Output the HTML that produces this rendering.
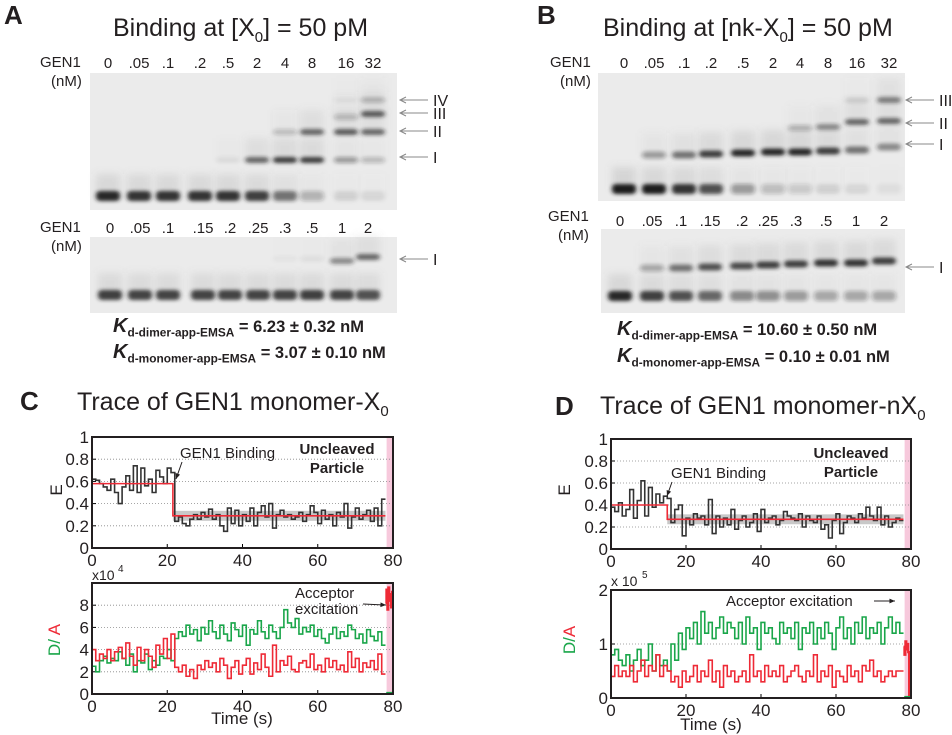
<!DOCTYPE html>
<html><head><meta charset="utf-8">
<style>
body{margin:0;width:952px;height:735px;background:#fff;overflow:hidden;position:relative;font-family:"Liberation Sans",Arial,sans-serif;color:#231f20}
.t{position:absolute;white-space:nowrap;line-height:1}
.pl{font-weight:bold;font-size:26px}
.ti{font-size:25px}
.lb{font-size:15px}
.kd{font-size:16.5px;font-weight:bold}
.kd i{font-size:20px}
.kd sub{font-size:72%}
sub{font-size:60%}
svg{position:absolute;left:0;top:0}
</style></head><body>
<svg id="s" width="952" height="735">
<defs>
<filter id="bl" x="-50%" y="-100%" width="200%" height="300%"><feGaussianBlur stdDeviation="2.2 1.8"/></filter>
<filter id="bl2" x="-50%" y="-100%" width="200%" height="300%"><feGaussianBlur stdDeviation="4"/></filter>
</defs>
</svg>

<div class="t pl" style="left:4px;top:2px">A</div>
<div class="t ti" style="left:113px;top:16px">Binding at [X<sub>0</sub>] = 50 pM</div>
<div class="t lb" style="left:40px;top:55px">GEN1</div>
<div class="t lb" style="left:51px;top:74px">(nM)</div>
<div class="t lb" style="left:40px;top:220px">GEN1</div>
<div class="t lb" style="left:51px;top:239px">(nM)</div>
<div class="t kd" style="left:113px;top:316px"><i>K</i><sub>d-dimer-app-EMSA</sub> = 6.23 ± 0.32 nM</div>
<div class="t kd" style="left:113px;top:342px"><i>K</i><sub>d-monomer-app-EMSA</sub> = 3.07 ± 0.10 nM</div>

<div class="t pl" style="left:537px;top:2px">B</div>
<div class="t ti" style="left:603px;top:16px">Binding at [nk-X<sub>0</sub>] = 50 pM</div>
<div class="t lb" style="left:550px;top:55px">GEN1</div>
<div class="t lb" style="left:560px;top:74px">(nM)</div>
<div class="t lb" style="left:548px;top:209px">GEN1</div>
<div class="t lb" style="left:558px;top:228px">(nM)</div>
<div class="t kd" style="left:617px;top:319px"><i>K</i><sub>d-dimer-app-EMSA</sub> = 10.60 ± 0.50 nM</div>
<div class="t kd" style="left:617px;top:346px"><i>K</i><sub>d-monomer-app-EMSA</sub> = 0.10 ± 0.01 nM</div>

<div class="t pl" style="left:20px;top:388px">C</div>
<div class="t ti" style="left:77px;top:390px">Trace of GEN1 monomer-X<sub>0</sub></div>
<div class="t pl" style="left:555px;top:393px">D</div>
<div class="t ti" style="left:600px;top:394px">Trace of GEN1 monomer-nX<sub>0</sub></div>

<script>
// ---------- Gel data ----------
const gelALanesTop=["0",".05",".1",".2",".5","2","4","8","16","32"];
const gelAFreeTop=[0.9,0.85,0.85,0.85,0.85,0.8,0.55,0.25,0.1,0.08];
const gelABandI=[0,0,0,0,0.06,0.6,0.8,0.8,0.35,0.22];
const gelABandII=[0,0,0,0,0,0,0.2,0.6,0.65,0.6];
const gelABandIII=[0,0,0,0,0,0,0,0,0.2,0.65];
const gelABandIV=[0,0,0,0,0,0,0,0,0.05,0.25];
const gelALanesBot=["0",".05",".1",".15",".2",".25",".3",".5","1","2"];
const gelAFreeBot=[0.8,0.78,0.78,0.78,0.78,0.78,0.78,0.8,0.78,0.72];
const gelABotI=[0,0,0,0,0,0,0.03,0.05,0.45,0.6];
const gelBLanesTop=["0",".05",".1",".2",".5","2","4","8","16","32"];
const gelBFreeTop=[1,0.95,0.85,0.7,0.35,0.2,0.15,0.1,0.08,0.05];
const gelBBandI=[0,0.35,0.55,0.8,0.9,0.9,0.9,0.8,0.55,0.45];
const gelBBandII=[0,0,0,0,0,0,0.25,0.45,0.6,0.6];
const gelBBandIII=[0,0,0,0,0,0,0,0,0.1,0.5];
const gelBLanesBot=["0",".05",".1",".15",".2",".25",".3",".5","1","2"];
const gelBFreeBot=[0.9,0.8,0.7,0.6,0.45,0.4,0.35,0.3,0.3,0.3];
const gelBBotI=[0,0.3,0.55,0.7,0.75,0.8,0.8,0.85,0.85,0.8];

// ---------- Trace data (t = 0..77 s, 1 s bins) ----------
const cE=[0.62,0.61,0.58,0.55,0.52,0.62,0.50,0.40,0.55,0.65,0.52,0.74,0.50,0.72,0.56,0.62,0.50,0.70,0.64,0.58,0.72,0.68,0.24,0.28,0.22,0.20,0.26,0.30,0.26,0.32,0.28,0.35,0.26,0.30,0.20,0.15,0.36,0.22,0.34,0.20,0.30,0.24,0.36,0.20,0.32,0.38,0.28,0.40,0.18,0.30,0.34,0.28,0.30,0.26,0.28,0.32,0.24,0.30,0.38,0.32,0.22,0.34,0.26,0.30,0.20,0.32,0.28,0.40,0.18,0.28,0.36,0.26,0.30,0.34,0.24,0.36,0.20,0.44];
const cFitTimes=[0,21.5,78];
const cFitLevels=[0.58,0.29];
const cDonor=[2.5,2.0,3.0,3.4,2.8,3.2,3.0,3.8,3.2,2.6,3.6,2.0,3.0,2.8,3.6,2.2,3.0,2.6,3.4,3.2,4.0,3.0,5.0,5.6,5.2,6.2,5.4,5.8,4.8,6.0,5.4,6.6,5.6,5.0,6.2,5.4,4.8,6.4,5.8,5.2,6.2,4.4,5.8,5.4,6.6,5.6,5.0,6.2,5.6,5.0,6.0,7.6,6.4,6.0,6.8,5.4,6.0,5.6,6.2,5.2,5.8,5.0,4.6,5.4,6.0,5.0,5.6,5.2,6.2,5.8,5.0,5.4,4.6,5.8,5.2,4.8,5.6,4.4];
const cAcceptor=[4.0,3.0,3.6,3.2,4.0,3.0,3.8,4.2,3.2,4.6,3.4,2.6,4.2,3.0,4.0,3.4,2.4,4.4,3.6,5.0,3.2,5.4,2.4,2.0,2.6,1.6,2.2,1.4,2.6,2.2,3.0,2.4,2.8,2.0,3.2,2.6,1.4,2.4,3.0,1.8,2.6,3.2,1.8,2.8,2.2,3.6,2.4,1.6,4.4,2.0,3.0,2.6,3.4,2.2,2.0,2.8,3.0,2.4,3.6,2.2,2.6,2.0,3.2,2.4,3.0,2.2,2.6,2.0,3.8,2.4,3.2,2.0,2.8,2.4,3.0,2.2,3.6,1.8];
const cAccExc=[8.2,9.4,7.6,9.6,8.4,9.0,7.8,9.2];
const dE=[0.38,0.34,0.42,0.30,0.36,0.54,0.28,0.44,0.62,0.30,0.56,0.38,0.50,0.42,0.48,0.46,0.24,0.36,0.40,0.12,0.28,0.22,0.32,0.28,0.30,0.22,0.45,0.14,0.30,0.20,0.28,0.22,0.36,0.18,0.26,0.30,0.20,0.24,0.32,0.16,0.36,0.24,0.28,0.30,0.22,0.26,0.34,0.30,0.28,0.26,0.32,0.20,0.30,0.26,0.24,0.30,0.18,0.22,0.10,0.26,0.32,0.14,0.24,0.30,0.28,0.24,0.32,0.28,0.38,0.30,0.26,0.38,0.22,0.30,0.20,0.24,0.28,0.26];
const dFitTimes=[0,15,78];
const dFitLevels=[0.40,0.27];
const dDonor=[0.8,0.9,0.7,0.6,0.8,0.5,0.7,0.9,0.6,0.7,1.0,0.5,0.8,0.6,0.7,0.5,1.0,0.7,1.2,0.9,1.3,1.1,1.4,1.0,1.6,1.2,1.4,1.1,1.3,1.5,1.2,1.4,1.3,1.1,1.4,1.0,1.5,1.2,1.3,0.9,1.4,1.2,1.3,1.1,1.0,1.4,1.2,1.3,1.1,1.4,0.9,1.3,1.2,1.4,1.0,1.3,1.1,1.4,1.2,0.9,1.3,1.5,1.1,1.3,1.0,1.4,1.2,1.5,1.1,1.3,1.2,1.4,1.0,1.3,1.5,1.2,1.4,1.2];
const dAcceptor=[0.4,0.6,0.4,0.5,0.4,0.6,0.3,0.5,0.7,0.4,0.6,0.5,0.8,0.4,0.6,0.5,0.3,0.4,0.2,0.5,0.3,0.4,0.6,0.3,0.5,0.4,0.7,0.3,0.5,0.2,0.6,0.4,0.5,0.3,0.4,0.5,0.3,0.8,0.4,0.5,0.3,0.6,0.4,0.5,0.4,0.6,0.3,0.4,0.5,0.6,0.4,0.3,0.5,0.4,0.8,0.3,0.5,0.4,0.6,0.2,0.5,0.4,0.3,0.6,0.4,0.5,0.3,0.6,0.5,0.7,0.4,0.5,0.3,0.4,0.5,0.4,0.5,0.5];
const dAccExc=[0.95,0.8,1.05,0.9,1.0,0.85,0.05,0.05];
const xTicks=[0,20,40,60,80];

const S=document.getElementById('s');
const NS='http://www.w3.org/2000/svg';
function mk(tag,a,p){const e=document.createElementNS(NS,tag);for(const k in a)e.setAttribute(k,a[k]);(p||S).appendChild(e);return e;}
function txt(x,y,s,size,anchor,p,fill,weight){const e=mk('text',{x:x,y:y,'font-size':size,'text-anchor':anchor||'middle',fill:fill||'#231f20','font-family':'Liberation Sans, Arial, sans-serif','font-weight':weight||'normal'},p);e.textContent=s;return e;}

// ---------- Gels ----------
function gel(name,x0,y0,x1,y1,lanesX,labels,labelY,bands,arrows){
  const g=mk('g',{});
  
  
  const bg=mk('rect',{x:x0,y:y0,width:x1-x0,height:y1-y0,fill:'#ebebeb'},g);
  
  
  labels.forEach((l,i)=>{
    const t=txt(lanesX[i],labelY,l,15,'middle',g);
    
    
  });
  bands.forEach(b=>{
    b.vals.forEach((v,i)=>{
      if(v<=0)return;
      const yy=b.y+(b.dy?b.dy[i]:0);
      const sm=mk('rect',{x:lanesX[i]-12,y:yy-22,width:24,height:22,fill:'#777','fill-opacity':v*0.18,filter:'url(#bl2)'},g);
      
      
      const e=mk('rect',{x:lanesX[i]-12,y:yy-b.h/2,width:24,height:b.h,rx:4,fill:'#1e1e1e','fill-opacity':Math.min(1,v*1.05),filter:'url(#bl)'},g);
      
      
    });
  });
  arrows.forEach(a=>{
    const l=mk('line',{x1:a.x,y1:a.y,x2:a.x+28,y2:a.y,stroke:'#888','stroke-width':1},g);
    
    
    const h=mk('path',{d:`M${a.x+6},${a.y-3}L${a.x},${a.y}L${a.x+6},${a.y+3}`,fill:'none',stroke:'#888','stroke-width':1},g);
    
    
    const t=txt(a.x+33,a.y+6,a.l,16,'start',g);
    
    
  });
}
const LA=[108,139,168,200,228,257,285,312,346,373];
gel('gel-a-top',90,73,397,210,LA,gelALanesTop,68,[
 {y:196,h:10,vals:gelAFreeTop},{y:160,h:6,vals:gelABandI},{y:132,h:6,vals:gelABandII},
 {y:114,h:6,vals:gelABandIII,dy:[0,0,0,0,0,0,0,0,3,0]},{y:100,h:5,vals:gelABandIV}],
 [{x:400,y:100,l:'IV'},{x:400,y:113,l:'III'},{x:400,y:131,l:'II'},{x:400,y:157,l:'I'}]);
const LA2=[110,140,168,203,230,258,285,312,342,368];
gel('gel-a-bottom',90,237,397,313,LA2,gelALanesBot,233,[
 {y:295,h:10,vals:gelAFreeBot},{y:259,h:6,vals:gelABotI,dy:[0,0,0,0,0,0,0,0,2,-2]}],
 [{x:400,y:259,l:'I'}]);
const LB=[624,654,684,711,743,773,800,828,857,889];
gel('gel-b-top',598,73,905,201,LB,gelBLanesTop,68,[
 {y:189,h:10,vals:gelBFreeTop},{y:154,h:7,vals:gelBBandI,dy:[0,1,1,0,-1,-2,-2,-3,-4,-7]},
 {y:125,h:6,vals:gelBBandII,dy:[0,0,0,0,0,0,3,2,-3,-4]},{y:100,h:6,vals:gelBBandIII}],
 [{x:906,y:100,l:'III'},{x:906,y:123,l:'II'},{x:906,y:144,l:'I'}]);
const LB2=[620,652,681,710,742,768,796,826,856,884];
gel('gel-b-bottom',601,229,905,313,LB2,gelBLanesBot,226,[
 {y:296,h:10,vals:gelBFreeBot},{y:266,h:7,vals:gelBBotI,dy:[0,2,2,1,0,-1,-2,-3,-3,-5]}],
 [{x:906,y:267,l:'I'}]);

// ---------- Trace plots ----------
function stairs(vals,sx,sy,t0){let d='';vals.forEach((v,i)=>{const x0=sx(t0+i),x1=sx(t0+i+1),y=sy(v);d+=(i?'L':'M')+x0+','+y+'L'+x1+','+y;});return d;}
function plot(name,X0,Y0,W,H,yMax,yTicks,yTickLabels){
  const g=mk('g',{});
  
  
  const sx=t=>X0+t/80*W, sy=v=>Y0+H-v/yMax*H;
  const pink=mk('rect',{x:sx(78.3),y:Y0,width:sx(80)-sx(78.3),height:H,fill:'#f7c9dc'},g);
  
  
  yTicks.forEach((v,i)=>{
    if(v>0&&v<yMax){const l=mk('line',{x1:X0,x2:X0+W,y1:sy(v),y2:sy(v),stroke:'#888','stroke-dasharray':'1,2','stroke-width':0.8},g);
    
    }
    const tk=mk('line',{x1:X0,x2:X0+4,y1:sy(v),y2:sy(v),stroke:'#000'},g);
    
    
    const t=txt(X0-3,sy(v)+6,yTickLabels[i],17,'end',g);
    
    
  });
  xTicks.forEach(v=>{
    const tk=mk('line',{x1:sx(v),x2:sx(v),y1:Y0+H,y2:Y0+H-4,stroke:'#000'},g);
    
    
    const t=txt(sx(v),Y0+H+18,String(v),17,'middle',g);
    
    
  });
  return {g,sx,sy,X0,Y0,W,H};
}
function frame(p){const r=mk('rect',{x:p.X0,y:p.Y0,width:p.W,height:p.H,fill:'none',stroke:'#231f20','stroke-width':2},p.g);
  
  }
function ePlot(name,X0,Y0,W,H,E,fT,fL){
  const p=plot(name,X0,Y0,W,H,1,[0,0.2,0.4,0.6,0.8,1],['0','0.2','0.4','0.6','0.8','1']);
  const lv=fL[fL.length-1];
  const band=mk('rect',{x:p.sx(fT[1]),y:p.sy(lv+0.045),width:p.sx(fT[2])-p.sx(fT[1]),height:p.sy(lv-0.045)-p.sy(lv+0.045),fill:'#c8c8c8'},p.g);
  
  
  const tr=mk('path',{d:stairs(E,p.sx,p.sy,0),fill:'none',stroke:'#333','stroke-width':1.6},p.g);
  
  
  let d='';fL.forEach((v,i)=>{d+=(i?'L':'M')+p.sx(fT[i])+','+p.sy(v)+'L'+p.sx(fT[i+1])+','+p.sy(v);});
  const fit=mk('path',{d:d,fill:'none',stroke:'#ee2a36','stroke-width':1.6},p.g);
  
  
  frame(p);
  return p;
}
function daPlot(name,X0,Y0,W,H,yMax,ticks,labels,don,acc,exc){
  const p=plot(name,X0,Y0,W,H,yMax,ticks,labels);
  const gr=mk('path',{d:stairs(don,p.sx,p.sy,0),fill:'none',stroke:'#1aa64a','stroke-width':1.6},p.g);
  
  
  const rd=mk('path',{d:stairs(acc,p.sx,p.sy,0),fill:'none',stroke:'#ee2a36','stroke-width':1.6},p.g);
  
  
  const ex=mk('path',{d:stairs(exc,t=>p.sx(78+t*0.25),p.sy,0),fill:'none',stroke:'#ee2a36','stroke-width':2.2},p.g);
  
  
  const gz=mk('line',{x1:p.sx(78.2),x2:p.sx(80),y1:p.sy(yMax*0.01),y2:p.sy(yMax*0.01),stroke:'#1aa64a','stroke-width':2},p.g);
  
  
  frame(p);
  return p;
}
const pc=ePlot('plot-c-fret',92,437,301,111,cE,cFitTimes,cFitLevels);
const pc2=daPlot('plot-c-intensity',92,583,301,111,10,[0,2,4,6,8],['0','2','4','6','8'],cDonor,cAcceptor,cAccExc);
const pd=ePlot('plot-d-fret',611,439,300,110,dE,dFitTimes,dFitLevels);
const pd2=daPlot('plot-d-intensity',611,590,300,108,2,[0,1,2],['0','1','2'],dDonor,dAcceptor,dAccExc);

// annotations
function ann(p,x,y,s,size,anchor,weight,fill,name){const t=txt(x,y,s,size,anchor,p.g,fill,weight);return t;}
ann(pc,180,458,'GEN1 Binding',15,'start','normal','#231f20','gen1-binding-label-c');
ann(pc,337,454,'Uncleaved',15,'middle','bold','#231f20','uncleaved-label-c');
ann(pc,337,473,'Particle',15,'middle','bold','#231f20','particle-label-c');
ann(pd,671,478,'GEN1 Binding',15,'start','normal','#231f20','gen1-binding-label-d');
ann(pd,851,458,'Uncleaved',15,'middle','bold','#231f20','uncleaved-label-d');
ann(pd,851,477,'Particle',15,'middle','bold','#231f20','particle-label-d');
ann(pc2,295,598,'Acceptor',15,'start','normal','#231f20','acceptor-label-c');
ann(pc2,295,614,'excitation',15,'start','normal','#231f20','excitation-label-c');
ann(pd2,726,606,'Acceptor excitation',15,'start','normal','#231f20','acceptor-excitation-label-d');
ann(pc2,242,724,'Time (s)',17,'middle','normal','#231f20','x-axis-title-c');
ann(pd2,711,730,'Time (s)',17,'middle','normal','#231f20','x-axis-title-d');
ann(pc2,92,580,'x10',14,'start','normal','#231f20','exponent-c');
ann(pc2,118,572,'4',10,'start','normal','#231f20','exponent-power-c');
ann(pd2,611,586,'x 10',14,'start','normal','#231f20','exponent-d');
ann(pd2,642,578,'5',10,'start','normal','#231f20','exponent-power-d');
function rot(x,y,parts,name){const t=mk('text',{x:0,y:0,'font-size':17,'text-anchor':'middle',transform:`translate(${x},${y}) rotate(-90)`,'font-family':'Liberation Sans, Arial, sans-serif'});parts.forEach(pt=>{const s=mk('tspan',{fill:pt[1]},t);s.textContent=pt[0];});}
rot(62,490,[['E','#231f20']],'e-axis-title-c');
rot(570,490,[['E','#231f20']],'e-axis-title-d');
rot(60,640,[['D/ ','#1aa64a'],['A','#ee2a36']],'da-axis-title-c');
rot(575,640,[['D/','#1aa64a'],['A','#ee2a36']],'da-axis-title-d');
function arr(x1,y1,x2,y2,name){const l=mk('line',{x1,y1,x2,y2,stroke:'#231f20','stroke-width':1});
 const a=Math.atan2(y2-y1,x2-x1),h=6;const p=mk('path',{d:`M${x2},${y2}L${x2-h*Math.cos(a-0.4)},${y2-h*Math.sin(a-0.4)}L${x2-h*Math.cos(a+0.4)},${y2-h*Math.sin(a+0.4)}Z`,fill:'#231f20'});}
arr(182,462,176,479,'binding-arrow-c');
arr(672,482,667,496,'binding-arrow-d');
arr(363,604,386,605,'acceptor-arrow-c');
arr(874,601,895,601,'acceptor-arrow-d');
</script>
</body></html>
